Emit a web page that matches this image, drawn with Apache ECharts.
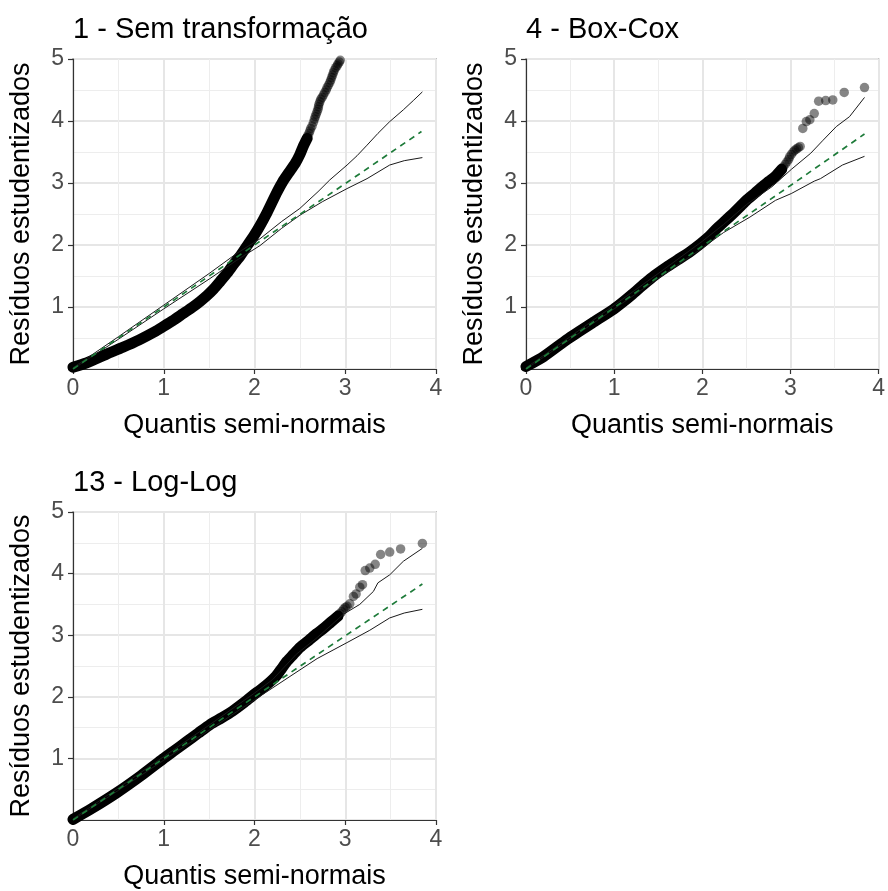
<!DOCTYPE html>
<html>
<head>
<meta charset="utf-8">
<script src="https://cdn.jsdelivr.net/npm/echarts@6/dist/echarts.min.js"></script>
<style>
  html, body { margin: 0; padding: 0; background: #ffffff; }
  #chart { width: 888px; height: 891px; }
</style>
</head>
<body>
<div id="chart"></div>
<script>
// Panel titles and axis texts
const panelTitles = ['1 - Sem transformação', '4 - Box-Cox', '13 - Log-Log'];
const xAxisTitle = 'Quantis semi-normais';
const yAxisTitle = 'Resíduos estudentizados';
const xTickValues = [0, 1, 2, 3, 4];
const yTickValues = [1, 2, 3, 4, 5];

// Panel 1 - Sem transformação
// dense run of observations (points overlap into a solid band)
const band1 = [[0.00,0.03],[0.15,0.10],[0.37,0.24],[0.55,0.35],[0.73,0.47],[0.90,0.60],[0.99,0.68],[1.10,0.78],[1.21,0.89],[1.31,0.99],[1.40,1.09],[1.48,1.19],[1.55,1.29],[1.62,1.41],[1.70,1.55],[1.77,1.69],[1.84,1.82],[1.91,1.97],[1.99,2.14],[2.06,2.31],[2.13,2.50],[2.19,2.68],[2.25,2.86],[2.31,3.02],[2.38,3.17],[2.45,3.32],[2.50,3.46],[2.54,3.60],[2.58,3.72]];
// upper observations, drawn individually
const tail1 = [[2.585,3.76],[2.60,3.80],[2.61,3.84],[2.62,3.88],[2.635,3.92],[2.65,3.98],[2.66,4.03],[2.67,4.07],[2.68,4.11],[2.69,4.15],[2.70,4.19],[2.705,4.23],[2.71,4.27],[2.72,4.31],[2.73,4.35],[2.745,4.38],[2.76,4.42],[2.775,4.46],[2.79,4.50],[2.80,4.54],[2.815,4.58],[2.83,4.62],[2.84,4.66],[2.85,4.70],[2.86,4.74],[2.87,4.78],[2.88,4.82],[2.895,4.86],[2.91,4.89],[2.92,4.92],[2.935,4.95],[2.945,4.98]];
const upper1 = [[0,0.02],[0.5,0.52],[1.0,1.03],[1.5,1.54],[1.8,1.86],[2.06,2.10],[2.3,2.38],[2.5,2.59],[2.7,2.86],[2.83,3.05],[3.02,3.29],[3.13,3.44],[3.24,3.61],[3.36,3.80],[3.49,3.99],[3.64,4.18],[3.75,4.33],[3.85,4.47]];
const lower1 = [[0,0],[0.5,0.48],[1.0,0.97],[1.5,1.45],[1.8,1.75],[2.06,1.99],[2.3,2.27],[2.5,2.48],[2.75,2.70],[3.02,2.91],[3.24,3.07],[3.49,3.29],[3.65,3.36],[3.85,3.41]];
const median1 = [[0,0],[1,1],[2,2],[3,2.99],[3.84,3.83]];

// Panel 2 - Box-Cox
const band2 = [[0.00,0.04],[0.20,0.20],[0.47,0.48],[0.75,0.74],[0.99,0.96],[1.10,1.08],[1.21,1.21],[1.34,1.37],[1.46,1.51],[1.60,1.65],[1.72,1.76],[1.85,1.88],[1.98,2.02],[2.08,2.14],[2.16,2.26],[2.26,2.39],[2.35,2.51],[2.43,2.62],[2.50,2.72],[2.60,2.84],[2.68,2.94],[2.76,3.03],[2.83,3.11],[2.90,3.22]];
const tail2 = [[2.92,3.26],[2.94,3.30],[2.96,3.34],[2.98,3.38],[2.99,3.42],[3.01,3.46],[3.03,3.50],[3.05,3.53],[3.07,3.55],[3.09,3.57],[3.11,3.59],[3.14,3.88],[3.18,3.99],[3.22,4.02],[3.27,4.12],[3.32,4.32],[3.40,4.33],[3.48,4.34],[3.61,4.46],[3.84,4.54]];
const upper2 = [[0,0.02],[0.5,0.52],[1,1.03],[1.5,1.54],[2,2.06],[2.24,2.33],[2.5,2.65],[2.79,2.94],[3.01,3.22],[3.23,3.48],[3.37,3.69],[3.52,3.91],[3.67,4.07],[3.84,4.38]];
const lower2 = [[0,0],[0.5,0.48],[1,0.97],[1.5,1.46],[2,1.95],[2.24,2.20],[2.54,2.45],[2.83,2.72],[3.01,2.83],[3.27,3.03],[3.34,3.07],[3.59,3.29],[3.84,3.43]];
const median2 = [[0,0],[1,0.99],[2,1.98],[3,2.96],[3.84,3.79]];

// Panel 3 - Log-Log
const band3 = [[0.00,0.01],[0.20,0.18],[0.48,0.44],[0.75,0.72],[0.99,0.99],[1.12,1.13],[1.25,1.27],[1.38,1.41],[1.51,1.55],[1.64,1.66],[1.76,1.77],[1.88,1.90],[1.98,2.02],[2.08,2.13],[2.17,2.24],[2.24,2.34],[2.30,2.46],[2.36,2.58],[2.43,2.69],[2.50,2.80],[2.60,2.92],[2.69,3.03],[2.77,3.12],[2.84,3.21],[2.92,3.31]];
const tail3 = [[2.94,3.35],[2.96,3.38],[2.98,3.42],[3.00,3.45],[3.02,3.47],[3.05,3.51],[3.09,3.63],[3.12,3.67],[3.16,3.78],[3.19,3.82],[3.22,4.05],[3.27,4.09],[3.33,4.15],[3.39,4.31],[3.49,4.35],[3.61,4.40],[3.85,4.49]];
const upper3 = [[0,0.02],[0.5,0.52],[1,1.03],[1.5,1.54],[2,2.06],[2.2,2.28],[2.46,2.69],[2.69,2.96],[2.98,3.34],[3.16,3.50],[3.31,3.71],[3.36,3.85],[3.49,3.98],[3.64,4.20],[3.85,4.41]];
const lower3 = [[0,0],[0.5,0.48],[1,0.97],[1.5,1.46],[2,1.95],[2.39,2.33],[2.69,2.62],[3.02,2.88],[3.27,3.08],[3.49,3.28],[3.65,3.36],[3.85,3.42]];
const median3 = [[0,0],[1,1],[2,2],[3,2.99],[3.85,3.83]];

const panels = [
  { band: band1, tail: tail1, upper: upper1, lower: lower1, median: median1 },
  { band: band2, tail: tail2, upper: upper2, lower: lower2, median: median2 },
  { band: band3, tail: tail3, upper: upper3, lower: lower3, median: median3 }
];

const FONT = "'Liberation Sans', Arial, sans-serif";
const gridBoxes = [
  { left: 73, top: 59, width: 363, height: 310 },
  { left: 526, top: 59, width: 364, height: 310 },
  { left: 73, top: 512, width: 363, height: 310 }
];
const titlePos = [
  { left: 73, top: 15 },
  { left: 526, top: 15 },
  { left: 73, top: 468 }
];

const chart = echarts.init(document.getElementById('chart'), null, { renderer: 'canvas' });

const grid = gridBoxes.map(g => Object.assign({
  show: true, borderColor: '#333333', borderWidth: 1.2, backgroundColor: '#ffffff'
}, g));

const title = panelTitles.map((t, i) => Object.assign({
  text: t, padding: 0,
  textStyle: { fontFamily: FONT, fontSize: 29, fontWeight: 'normal', color: '#000000' }
}, titlePos[i]));

const gridLineMajor = { show: true, lineStyle: { color: '#e6e6e6', width: 2 } };
const gridLineMinor = { show: true, lineStyle: { color: '#ededed', width: 1 } };

const xAxis = panels.map((p, i) => ({
  type: 'value', gridIndex: i, min: 0, max: 4, interval: 1,
  name: xAxisTitle, nameLocation: 'middle', nameGap: 43,
  nameTextStyle: { fontFamily: FONT, fontSize: 27, color: '#000000' },
  axisLine: { show: true, onZero: false, lineStyle: { color: '#333333', width: 1.2 } },
  axisTick: { show: true, length: 5, lineStyle: { color: '#333333', width: 1.2 } },
  axisLabel: {
    fontFamily: FONT, fontSize: 23, color: '#4d4d4d', margin: 8,
    formatter: v => (xTickValues.indexOf(v) >= 0 ? String(v) : '')
  },
  splitLine: gridLineMajor,
  minorTick: { show: false, splitNumber: 2 },
  minorSplitLine: gridLineMinor
}));

const yAxis = panels.map((p, i) => ({
  type: 'value', gridIndex: i, min: 0, max: 5, interval: 1,
  name: yAxisTitle, nameLocation: 'middle', nameGap: 38, nameRotate: 90,
  nameTextStyle: { fontFamily: FONT, fontSize: 27, color: '#000000' },
  axisLine: { show: true, onZero: false, lineStyle: { color: '#333333', width: 1.2 } },
  axisTick: { show: true, length: 5, lineStyle: { color: '#333333', width: 1.2 } },
  axisLabel: {
    fontFamily: FONT, fontSize: 23, color: '#4d4d4d', margin: 9,
    formatter: v => (yTickValues.indexOf(v) >= 0 ? String(v) : '')
  },
  splitLine: gridLineMajor,
  minorTick: { show: false, splitNumber: 2 },
  minorSplitLine: gridLineMinor
}));

const series = [];
panels.forEach((p, i) => {
  // densely packed observations
  series.push({
    type: 'line', xAxisIndex: i, yAxisIndex: i, data: p.band,
    symbol: 'none', silent: true, z: 2, smooth: 0.2,
    lineStyle: { color: '#000000', width: 11, cap: 'round', join: 'round' }
  });
  // individual observations
  series.push({
    type: 'scatter', xAxisIndex: i, yAxisIndex: i, data: p.tail,
    symbol: 'circle', symbolSize: 9.5, silent: true, z: 3,
    itemStyle: { color: 'rgba(0,0,0,0.6)' }
  });
  // simulated envelope bounds
  [p.upper, p.lower].forEach(d => series.push({
    type: 'line', xAxisIndex: i, yAxisIndex: i, data: d,
    symbol: 'none', silent: true, z: 4,
    lineStyle: { color: '#1a1a1a', width: 1 }
  }));
  // envelope median
  series.push({
    type: 'line', xAxisIndex: i, yAxisIndex: i, data: p.median,
    symbol: 'none', silent: true, z: 5,
    lineStyle: { color: '#1e7b3a', width: 1.7, type: [6, 5] }
  });
});

chart.setOption({
  backgroundColor: '#ffffff',
  animation: false,
  title, grid, xAxis, yAxis, series
});
</script>
</body>
</html>
